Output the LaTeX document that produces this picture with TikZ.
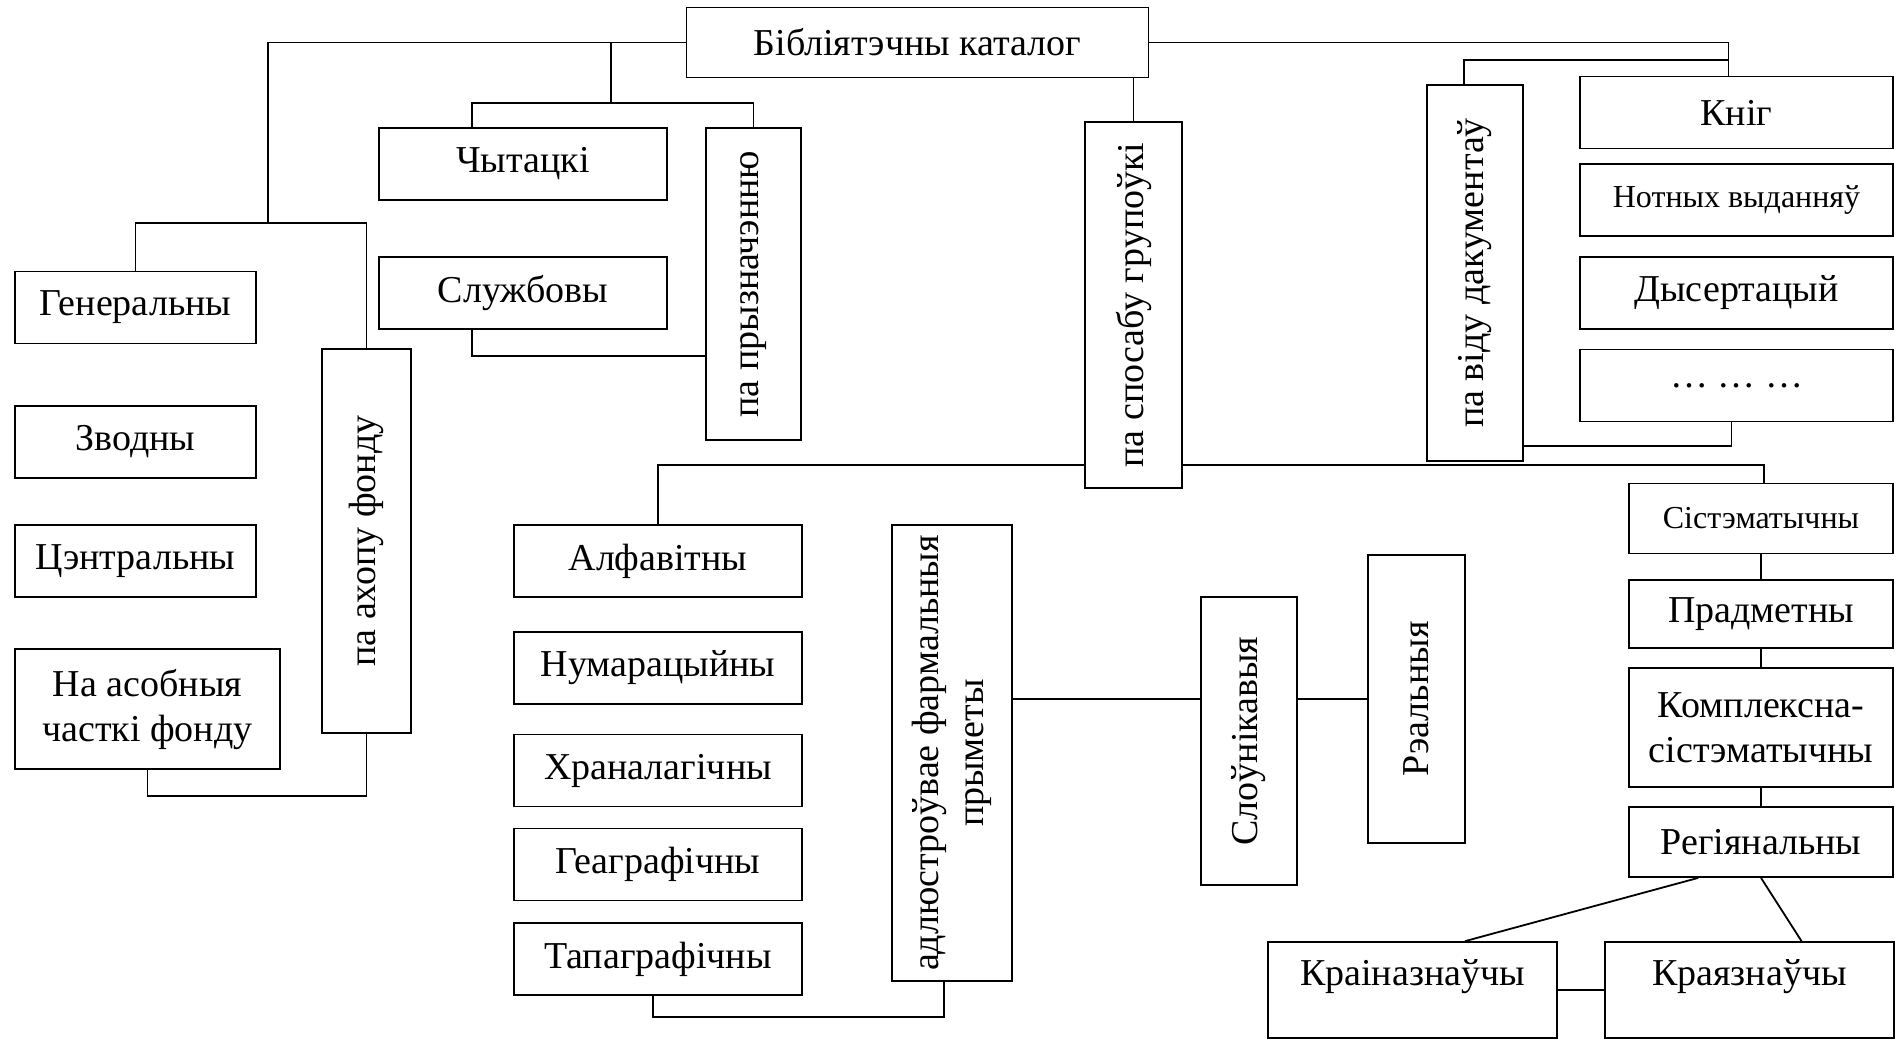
\documentclass[tikz,border=0pt]{standalone}
\usepackage{fontspec}
\setmainfont{Liberation Serif}
\usetikzlibrary{calc}

\newcommand{\vtxt}[1]{\rotatebox{90}{#1}}

\tikzset{
  box/.style={draw, line width=0.9pt, align=center, inner sep=1pt, font=\fontsize{19}{22.5}\selectfont},
  lbox/.style={box, minimum width=120.5pt, minimum height=36pt},
  mbox/.style={box, minimum width=144pt, minimum height=36pt},
  rbox/.style={box, minimum width=156.5pt, minimum height=36pt},
  sbox/.style={box, minimum width=132pt, minimum height=35pt},
  small/.style={font=\fontsize{16}{19}\selectfont},
}

\begin{document}
\begin{tikzpicture}[x=0.5pt, y=-0.5pt, line width=0.9pt]
  \useasboundingbox (0,0) rectangle (1899,1041);

  \node[box, minimum width=231pt, minimum height=35pt] (cat) at (917.5,42.5) {Бібліятэчны каталог};

  % па ахопу фонду
  \node[lbox] (gen) at (135.5,307.5) {Генеральны};
  \node[lbox] (zv) at (135.5,442) {Зводны};
  \node[lbox] (cen) at (135.5,561) {Цэнтральны};
  \node[box, minimum width=132.5pt, minimum height=60pt] (asob) at (147.5,709) {На асобныя\\часткі фонду};
  \node[box, minimum width=44.5pt, minimum height=192pt] (ahop) at (366.5,541) {\vtxt{па ахопу фонду}};

  % па прызначэнню
  \node[mbox] (chyt) at (523,164) {Чытацкі};
  \node[mbox] (sluzh) at (523,293) {Службовы};
  \node[box, minimum width=47.5pt, minimum height=156pt] (pryzn) at (753.5,284) {\vtxt{па прызначэнню}};

  % па віду дакументаў
  \node[box, minimum width=48pt, minimum height=188pt] (vid) at (1475,273) {\vtxt{па віду дакументаў}};
  \node[rbox] (knig) at (1736.5,112.5) {Кніг};
  \node[rbox, small] (not) at (1736.5,200) {Нотных выданняў};
  \node[rbox] (dys) at (1736.5,293) {Дысертацый};
  \node[rbox] (dots) at (1736.5,385.5) {…\ …\ …};

  % па спосабу групоўкі
  \node[box, minimum width=48.5pt, minimum height=183pt] (spos) at (1133.5,305) {\vtxt{па спосабу групоўкі}};
  \node[mbox] (alf) at (658,561) {Алфавітны};
  \node[mbox] (num) at (658,668) {Нумарацыйны};
  \node[mbox] (hran) at (658,770.5) {Храналагічны};
  \node[mbox] (geo) at (658,864.5) {Геаграфічны};
  \node[mbox] (tap) at (658,959) {Тапаграфічны};
  \node[box, minimum width=60pt, minimum height=228pt] (adl) at (952,753)
    {\vtxt{\begin{tabular}{@{}c@{}}адлюстроўвае фармальныя\\прыметы\end{tabular}}};
  \node[box, minimum width=48pt, minimum height=144pt] (slou) at (1249,741) {\vtxt{Слоўнікавыя}};
  \node[box, minimum width=48.5pt, minimum height=144pt] (real) at (1416.5,699) {\vtxt{Рэальныя}};
  \node[sbox, small] (sist) at (1761,518.5) {Сістэматычны};
  \node[sbox, minimum height=34pt] (pradm) at (1761,614) {Прадметны};
  \node[sbox, minimum height=59.5pt] (kompl) at (1761,727.5) {Комплексна-\\сістэматычны};
  \node[sbox] (reg) at (1761,842) {Регіянальны};
  \node[box, minimum width=144.5pt, minimum height=48pt, text depth=18pt] (kraina) at (1412.5,990) {Краіназнаўчы};
  \node[box, minimum width=144.5pt, minimum height=48pt, text depth=18pt] (kraja) at (1749.5,990) {Краязнаўчы};

  % злучэнні
  \coordinate (j1) at (268,223);
  \coordinate (j2) at (611,103);
  \coordinate (j3) at (1728,60);
  \coordinate (j4) at (944,1017);

  \draw (cat.west) -| (j1);
  \draw (gen.north) |- (j1) -| (ahop.north);
  \draw (asob.south) |- (ahop.south |- 0,796) -- (ahop.south);

  \draw (j2 |- cat.west) -- (j2);
  \draw ($(chyt.north)+(-51,0)$) |- (j2) -| (pryzn.north);
  \draw ($(sluzh.south)+(-51,0)$) |- (pryzn.west |- 0,356);

  \draw (cat.east) -| ($(knig.north)+(-8,0)$);
  \draw ($(vid.north)+(-11,0)$) |- (j3);
  \draw ($(dots.south)+(-5,0)$) |- (vid.east |- 0,446);

  \draw (spos.north) -- (spos.north |- cat.south);
  \draw (alf.north) |- (spos.west |- 0,465);
  \draw (spos.east |- 0,465) -| ($(sist.north)+(3,0)$);
  \draw ($(tap.south)+(-5,0)$) |- (j4) -- ($(adl.south)+(-8,0)$);
  \draw (adl.east |- real.west) -- (slou.west |- real.west);
  \draw (slou.east |- real.west) -- (real.west);

  \draw (sist.south) -- (pradm.north) (pradm.south) -- (kompl.north) (kompl.south) -- (reg.north);
  \draw ($(reg.south west)+(70,0)$) -- ($(kraina.north west)+(198,0)$);
  \draw (reg.south) -- ($(kraja.north)+(52,0)$);
  \draw (kraina) -- (kraja);
\end{tikzpicture}
\end{document}
